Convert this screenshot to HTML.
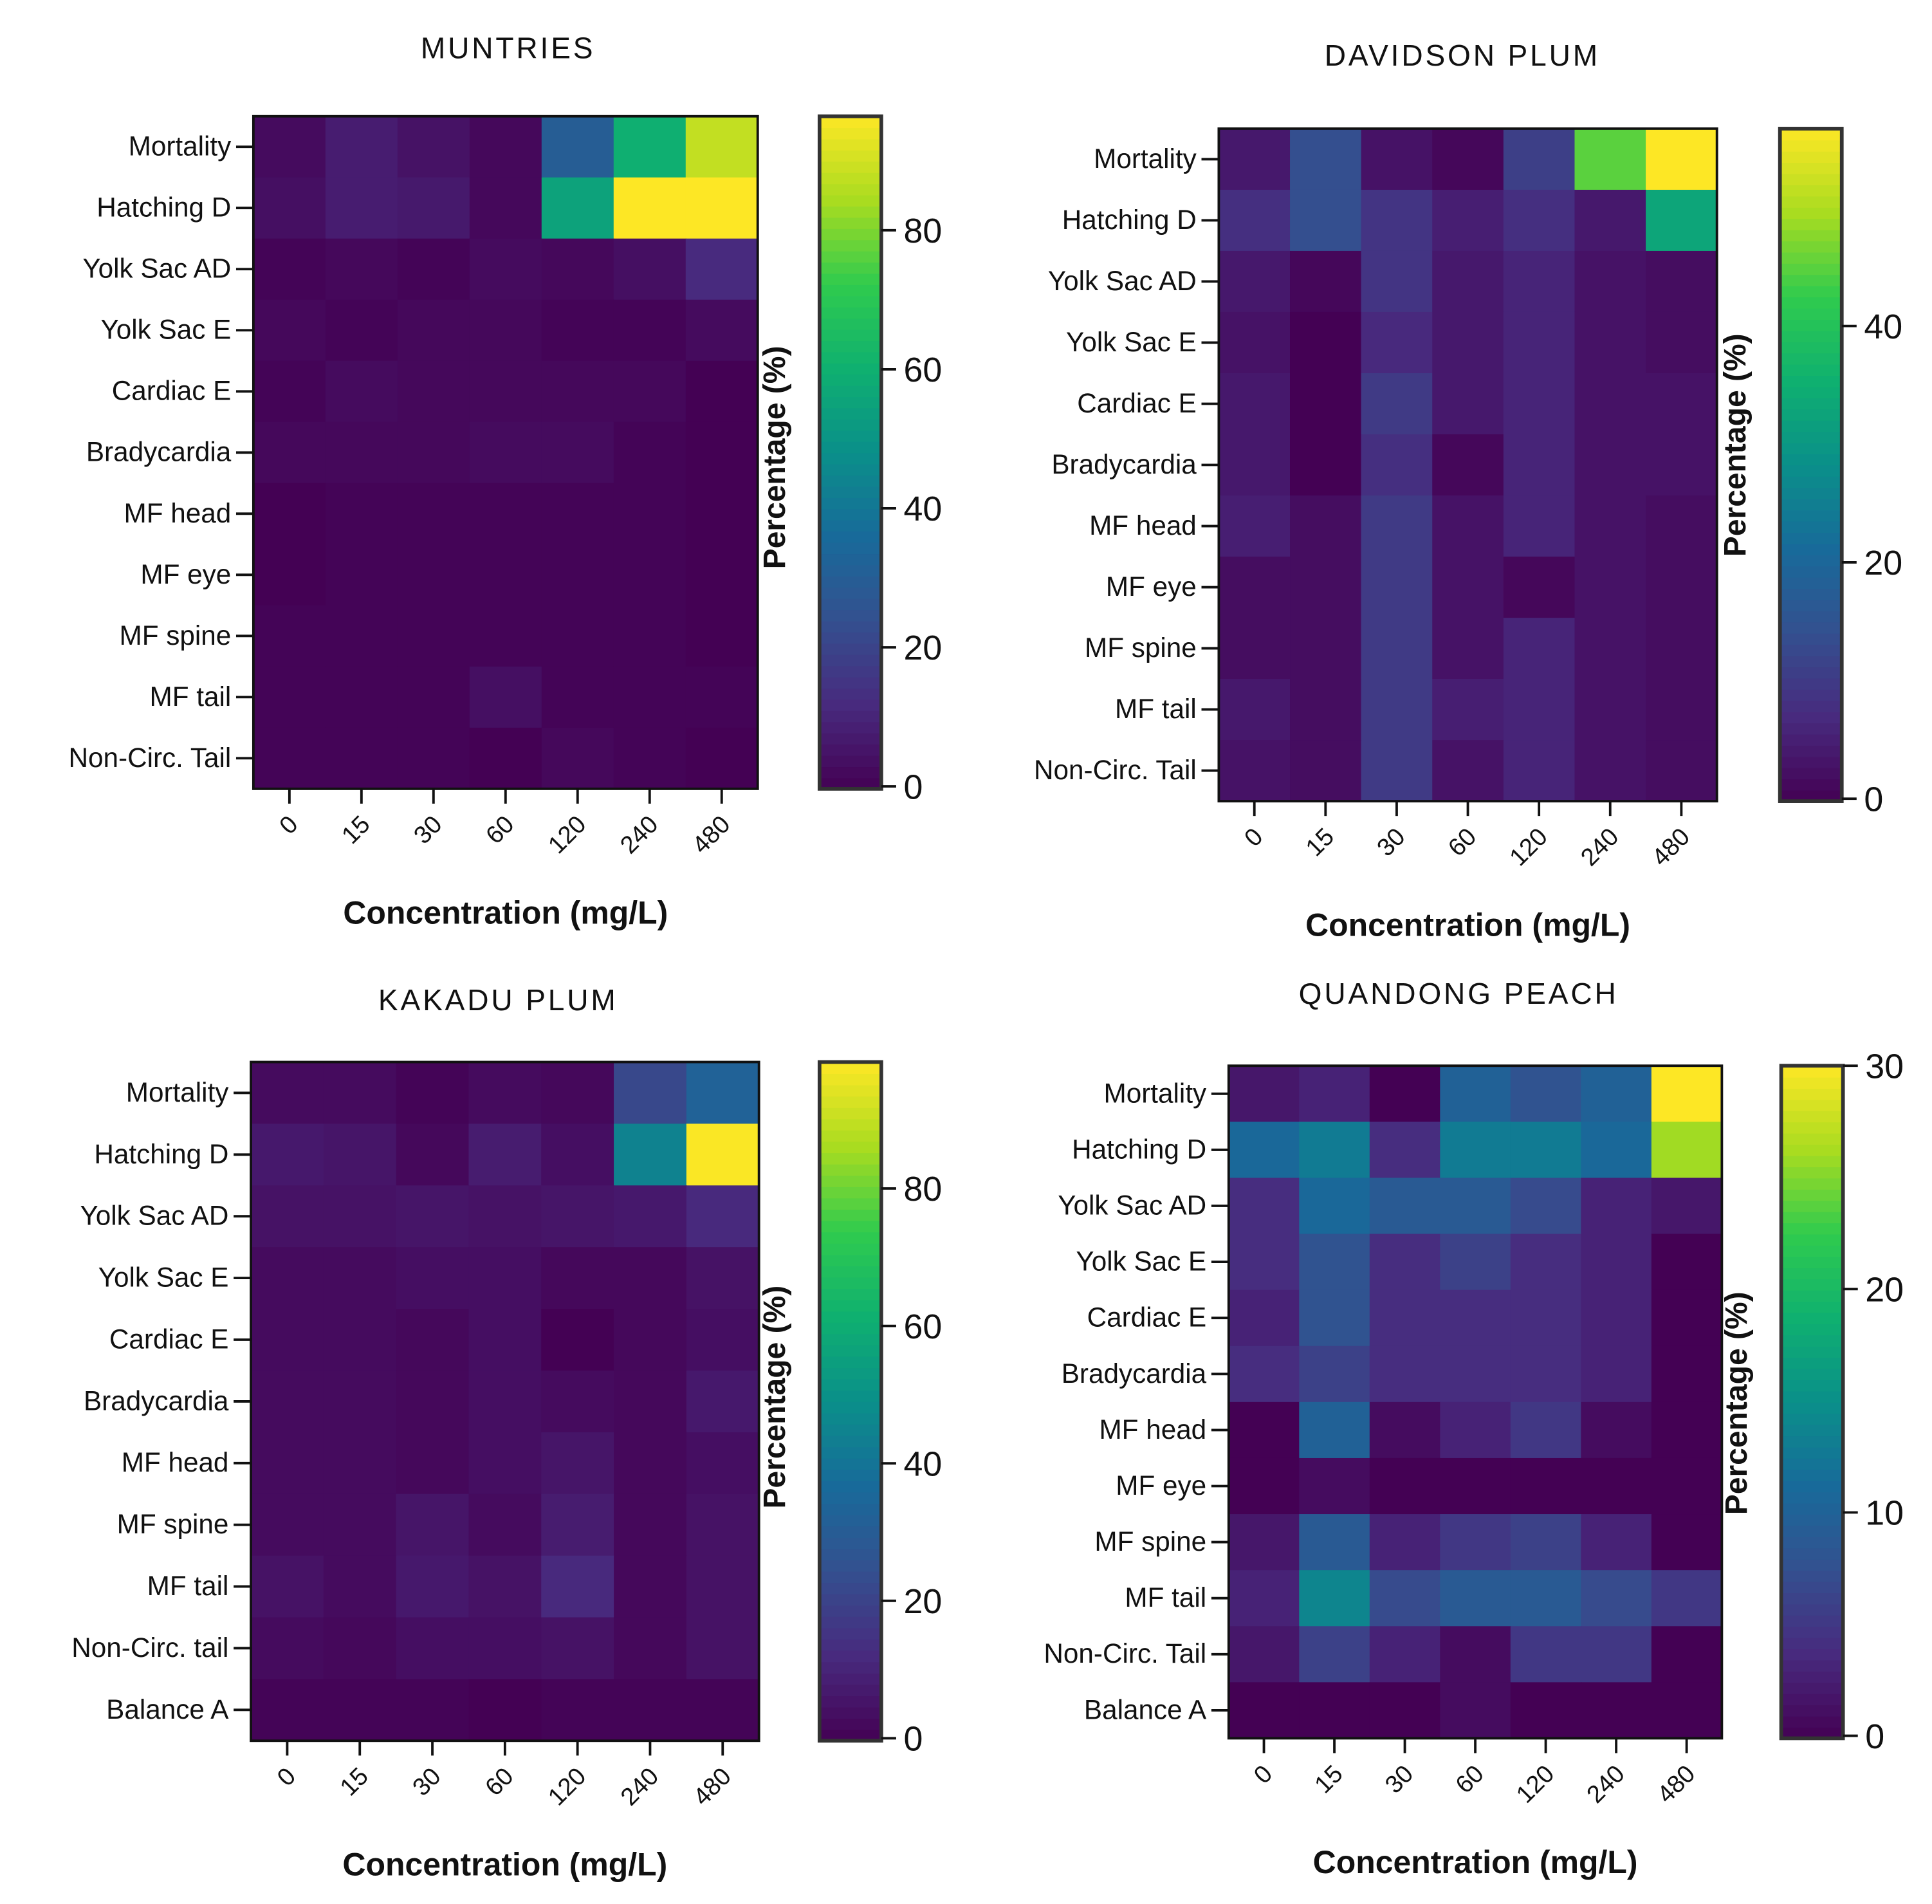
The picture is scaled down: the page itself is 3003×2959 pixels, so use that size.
<!DOCTYPE html>
<html>
<head>
<meta charset="utf-8">
<style>
html,body{margin:0;padding:0;background:#fff;}
svg{display:block;}
text{font-family:"Liberation Sans",sans-serif;fill:#111;}
</style>
</head>
<body>
<svg id="fig" xmlns="http://www.w3.org/2000/svg" width="3003" height="2959" viewBox="0 0 1563 1540">
<rect width="1563" height="1540" fill="#fff"/>
</svg>
<script>
// ---- data ----
const concentrations = ["0","15","30","60","120","240","480"];
const rowsA = ["Mortality","Hatching D","Yolk Sac AD","Yolk Sac E","Cardiac E","Bradycardia","MF head","MF eye","MF spine","MF tail","Non-Circ. Tail"];
const rowsC = ["Mortality","Hatching D","Yolk Sac AD","Yolk Sac E","Cardiac E","Bradycardia","MF head","MF spine","MF tail","Non-Circ. tail","Balance A"];
const rowsD = ["Mortality","Hatching D","Yolk Sac AD","Yolk Sac E","Cardiac E","Bradycardia","MF head","MF eye","MF spine","MF tail","Non-Circ. Tail","Balance A"];
const muntriesValues = [
 [3,8,5,2,30,60,88],[4,8,7,2,55,100,100],[1,2,1,3,2,4,12],[2,1,2,2,1,1,3],
 [1,3,2,2,2,2,0],[2,2,2,3,3,1,0],[0,1,1,1,1,1,0],[0,1,1,1,1,1,0],
 [1,1,1,1,1,1,0],[1,1,1,4,1,1,1],[1,1,1,0,2,1,0]];
const davidsonValues = [
 [4,14,3,1,11,45,57],[8,14,9,5,8,4,33],[4,1,9,4,6,3,2],[3,0,7,4,6,3,2],
 [4,0,10,4,6,3,3],[4,0,8,1,6,3,3],[5,2,10,3,6,3,2],[2,2,10,3,1,3,2],
 [2,2,10,3,6,3,2],[4,2,10,5,6,3,2],[3,2,10,3,6,3,2]];
const kakaduValues = [
 [3,3,1,3,2,22,33],[7,6,2,8,4,45,98],[5,5,6,5,6,7,12],[3,3,4,4,2,2,5],
 [3,3,2,4,0,2,4],[3,3,2,4,3,2,7],[3,3,2,4,6,2,4],[3,3,6,3,8,2,5],
 [5,3,7,5,12,2,5],[3,2,4,4,5,2,5],[1,1,1,0,1,1,1]];
const quandongValues = [
 [2,3,0,10,8,10,30],[11,13,4,13,13,11,26],[4,11,9,9,7,3,2],[4,8,4,6,4,3,0],
 [3,8,4,4,4,3,0],[4,6,4,4,4,3,0],[0,10,1,3,5,1,0],[0,1,0,0,0,0,0],
 [2,9,3,5,6,3,0],[3,14,7,9,9,7,5],[2,6,3,1,5,5,0],[0,0,0,1,0,0,0]];
const ticks80 = [0,20,40,60,80];
const ticks40 = [0,20,40];
const ticks30 = [0,10,20,30];

const NS="http://www.w3.org/2000/svg";
const svg=document.getElementById('fig');
const stops=["#440154","#482a7e","#34508f","#186a9a","#0a8f8a","#0fb070","#2fcb4e","#a9dc20","#fde725"];
function hex(h){return [1,3,5].map(i=>parseInt(h.substr(i,2),16));}
function viridis(t){t=Math.max(0,Math.min(1,t));const f=t*8,i=Math.min(7,Math.floor(f)),r=f-i;
 const a=hex(stops[i]),b=hex(stops[i+1]);return `rgb(${a.map((v,k)=>Math.round(v+(b[k]-v)*r)).join(',')})`;}
function el(tag,attrs,parent){const e=document.createElementNS(NS,tag);for(const k in attrs)e.setAttribute(k,attrs[k]);(parent||svg).appendChild(e);return e;}
function txt(s,attrs,parent){const e=el('text',attrs,parent);e.textContent=s;return e;}

function panel(o){
 const g=el('g',{});
 
 
 const nR=o.rows.length,nC=concentrations.length;
 const cw=(o.x1-o.x0)/nC,rh=(o.y1-o.y0)/nR;
 const xs=c=>o.x0+c*cw, ys=r=>o.y0+r*rh;
 const cs=v=>viridis(v/o.vmax);
 o.values.forEach((row,r)=>row.forEach((v,c)=>{
  const cell=el('rect',{x:xs(c),y:ys(r),width:cw+0.6,height:rh+0.6,fill:cs(v)},g);
  
  
 }));
 el('rect',{x:o.x0,y:o.y0,width:o.x1-o.x0,height:o.y1-o.y0,fill:'none',stroke:'#111','stroke-width':2},g);
 o.rows.forEach((n,r)=>{
  const y=ys(r)+rh/2;
  el('line',{x1:o.x0-14,x2:o.x0,y1:y,y2:y,stroke:'#111','stroke-width':2},g);
  const t=txt(n,{x:o.x0-18,y:y+7,'text-anchor':'end','font-size':22},g);
  
  
 });
 concentrations.forEach((n,c)=>{
  const x=xs(c)+cw/2;
  el('line',{x1:x,x2:x,y1:o.y1,y2:o.y1+12,stroke:'#111','stroke-width':2},g);
  const t=txt(n,{x:x+8,y:o.y1+30,'text-anchor':'end','font-size':20,transform:`rotate(-45 ${x+8} ${o.y1+30})`},g);
  
  
 });
 const title=txt(o.title,{x:o.tx,y:o.ty,'text-anchor':'middle','font-size':24,'letter-spacing':2},g);
 
 
 const xl=txt('Concentration (mg/L)',{x:(o.x0+o.x1)/2,y:o.y1+109,'text-anchor':'middle','font-size':26,'font-weight':'bold'},g);
 
 
 const cb=el('g',{},g);
 
 
 const N=60,h=(o.y1-o.y0)/N;
 for(let i=0;i<N;i++){el('rect',{x:o.cbx,y:o.y1-(i+1)*h,width:50,height:h+0.5,fill:viridis((i+0.5)/N)},cb);}
 el('rect',{x:o.cbx,y:o.y0,width:50,height:o.y1-o.y0,fill:'none',stroke:'#333','stroke-width':3},cb);
 const cy=v=>o.y1-2-(v/o.vmax)*(o.y1-o.y0-2);
 o.ticks.forEach(v=>{
  const y=cy(v);
  el('line',{x1:o.cbx+50,x2:o.cbx+62,y1:y,y2:y,stroke:'#111','stroke-width':2},cb);
  const t=txt(String(v),{x:o.cbx+68,y:y+10,'font-size':28},cb);
  
  
 });
 const yl=txt('Percentage (%)',{x:0,y:0,'text-anchor':'middle','font-size':25,'font-weight':'bold',transform:`translate(${o.cbx-28} ${o.ly}) rotate(-90)`},g);
 
 
}
panel({name:'muntries',title:'MUNTRIES',tx:411,ty:47,x0:205,x1:613,y0:94,y1:638,rows:rowsA,values:muntriesValues,vmax:96.4,ticks:ticks80,cbx:663,ly:370});
panel({name:'davidson-plum',title:'DAVIDSON PLUM',tx:1183,ty:53,x0:986,x1:1389,y0:104,y1:648,rows:rowsA,values:davidsonValues,vmax:56.7,ticks:ticks40,cbx:1440,ly:360});
panel({name:'kakadu-plum',title:'KAKADU PLUM',tx:403,ty:817,x0:203,x1:614,y0:859,y1:1408,rows:rowsC,values:kakaduValues,vmax:98.4,ticks:ticks80,cbx:663,ly:1130});
panel({name:'quandong-peach',title:'QUANDONG PEACH',tx:1180,ty:812,x0:994,x1:1393,y0:862,y1:1406,rows:rowsD,values:quandongValues,vmax:30,ticks:ticks30,cbx:1441,ly:1135});
</script>
</body>
</html>
